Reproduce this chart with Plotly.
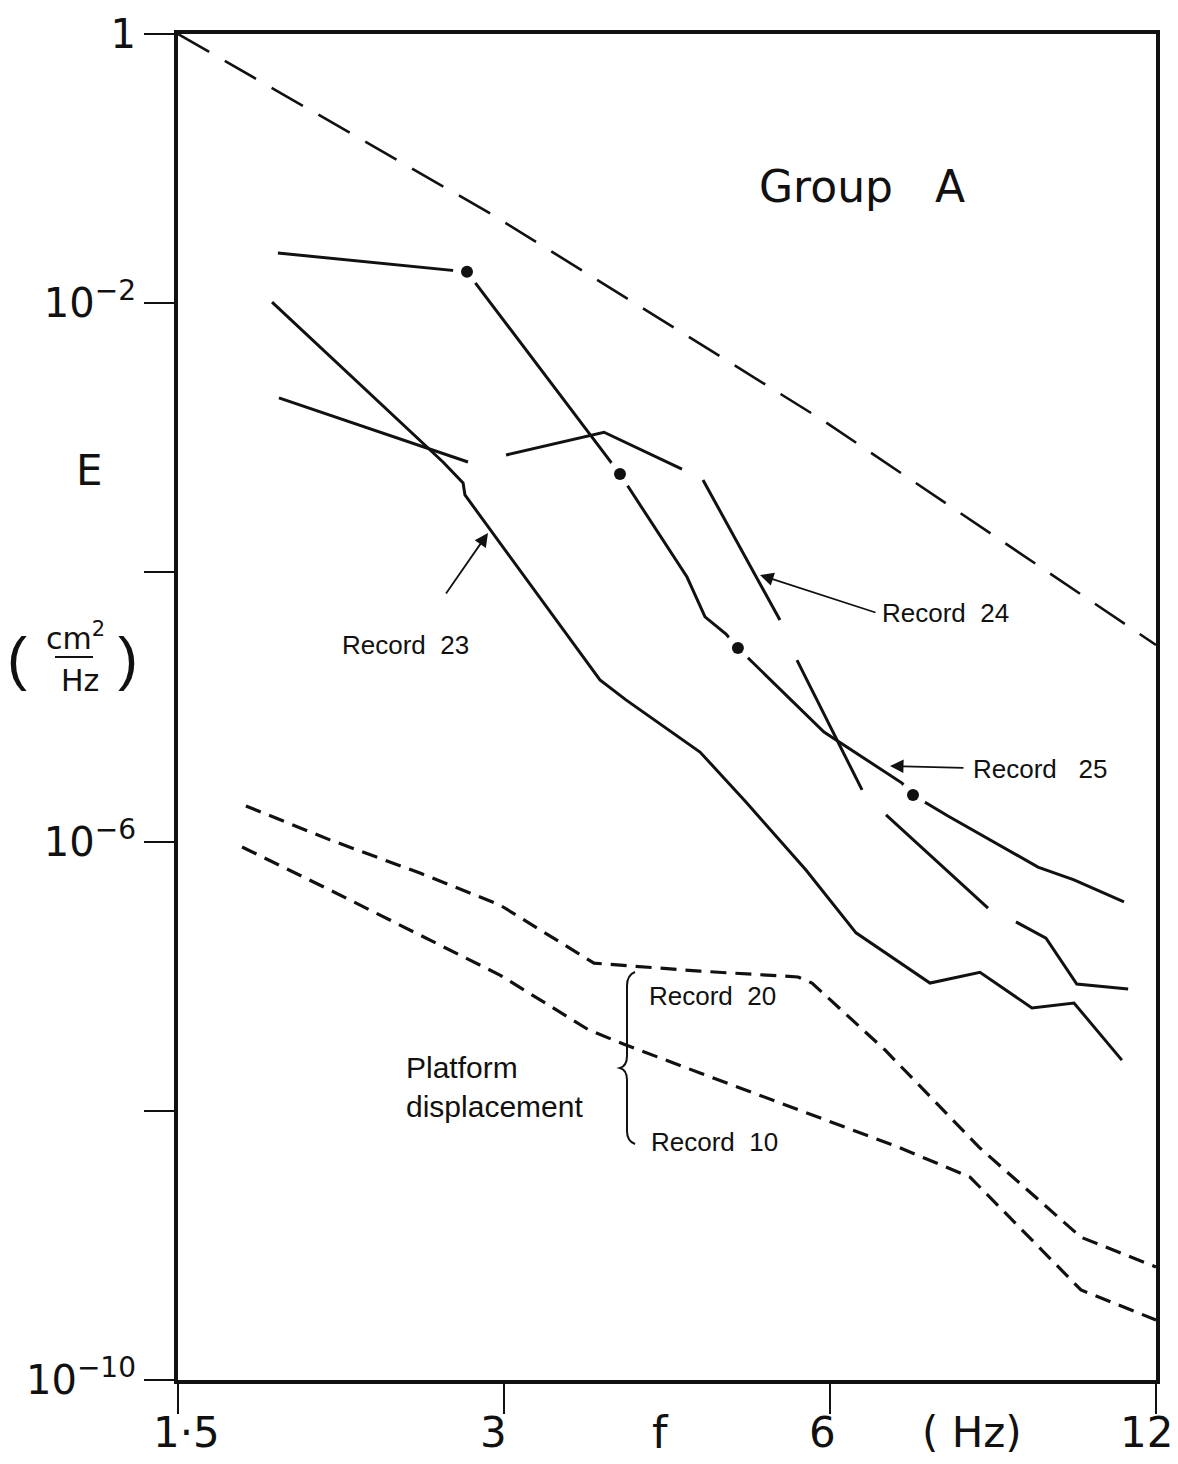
import math
import plotly.graph_objects as go

# ---------------- data (frequency f in Hz, spectral density E in cm^2/Hz) ----------------
upper_f = [1.5, 2.93, 5.90, 8.61, 12.0]
upper_E = [1.0, 4.52e-2, 1.36e-3, 1.74e-4, 2.89e-5]

rec23_f = [1.832, 2.635, 2.750, 2.761, 3.679, 3.888, 4.551, 5.018, 5.701, 6.341, 7.421, 8.253, 9.218, 10.08, 11.16]
rec23_E = [1.02e-2, 6.61e-4, 4.61e-4, 3.76e-4, 1.59e-5, 1.13e-5, 4.63e-6, 1.97e-6, 6.15e-7, 2.10e-7, 8.89e-8, 1.07e-7, 5.81e-8, 6.32e-8, 2.38e-8]

rec24_f = [1.859, 2.779, None, 3.013, 3.711, 4.380, None, 4.580, 5.394, None, 5.593, 6.423, None,
           6.759, 8.396, None, 8.910, 9.497, 10.14, 11.31]
rec24_E = [1.98e-3, 6.61e-4, None, 7.45e-4, 1.10e-3, 5.86e-4, None, 4.86e-4, 4.43e-5, None, 2.23e-5, 2.42e-6, None,
           1.58e-6, 3.21e-7, None, 2.53e-7, 1.92e-7, 8.75e-8, 8.03e-8]

rec25_f = [1.855, 2.646, 2.773, 3.839, 4.427, 4.600, 4.810, 4.933, 5.924, 6.993, 7.158, 7.711, 8.910, 9.337, 10.08, 11.21]
rec25_E = [2.36e-2, 1.77e-2, 1.71e-2, 5.38e-4, 9.24e-5, 4.67e-5, 3.48e-5, 2.74e-5, 6.52e-6, 2.72e-6, 2.22e-6, 1.55e-6,
           7.95e-7, 6.47e-7, 5.19e-7, 3.56e-7]
rec25_dot_f = [2.773, 3.839, 4.933, 7.158]
rec25_dot_E = [1.71e-2, 5.38e-4, 2.74e-5, 2.22e-6]

rec20_f = [1.733, 2.072, 2.509, 2.974, 3.633, 4.551, 5.605, 5.775, 6.744, 8.253, 10.23, 12.0]
rec20_E = [1.84e-6, 1.03e-6, 5.84e-7, 3.38e-7, 1.25e-7, 1.09e-7, 9.87e-8, 8.89e-8, 2.83e-8, 5.29e-9, 1.15e-9, 6.92e-10]

rec10_f = [1.719, 2.072, 2.509, 2.974, 3.594, 3.888, 4.551, 5.629, 6.933, 8.080, 10.23, 12.0]
rec10_E = [9.12e-7, 4.37e-7, 2.02e-7, 1.02e-7, 3.98e-8, 3.08e-8, 1.91e-8, 1.01e-8, 5.38e-9, 3.22e-9, 4.67e-10, 2.79e-10]

x_tickvals = [1.5, 3, 6, 12]
x_ticktext = ["1·5", "3", "6", "12"]
y_tickvals = [1, 1e-2, 1e-4, 1e-6, 1e-8, 1e-10]
y_ticktext = ["1", "10<sup>−2</sup>", "", "10<sup>−6</sup>", "", "10<sup>−10</sup>"]

# ---------------- layout geometry ----------------
W, H = 1178, 1464
L, R, T, B = 178, 22, 34, 84
PW = W - L - R
PH = H - T - B


def px(x):
    return (x - L) / PW


def py(y):
    return (H - B - y) / PH


AXFONT = "DejaVu Sans"
TXFONT = "Liberation Sans"
BLACK = "#111111"

fig = go.Figure()

fig.add_trace(go.Scatter(x=upper_f, y=upper_E, mode="lines", cliponaxis=True,
                         line=dict(color=BLACK, width=2.6, dash="36px,18px")))
fig.add_trace(go.Scatter(x=rec23_f, y=rec23_E, mode="lines", line=dict(color=BLACK, width=3)))
fig.add_trace(go.Scatter(x=rec24_f, y=rec24_E, mode="lines", connectgaps=False,
                         line=dict(color=BLACK, width=3)))
fig.add_trace(go.Scatter(x=rec25_f, y=rec25_E, mode="lines", line=dict(color=BLACK, width=3)))
fig.add_trace(go.Scatter(x=rec20_f, y=rec20_E, mode="lines",
                         line=dict(color=BLACK, width=3.2, dash="16px,9px")))
fig.add_trace(go.Scatter(x=rec10_f, y=rec10_E, mode="lines",
                         line=dict(color=BLACK, width=3.2, dash="16px,9px")))
# white halo then black dot for the Record 25 data points
fig.add_trace(go.Scatter(x=rec25_dot_f, y=rec25_dot_E, mode="markers",
                         marker=dict(color="white", size=28, line=dict(width=0))))
fig.add_trace(go.Scatter(x=rec25_dot_f, y=rec25_dot_E, mode="markers",
                         marker=dict(color=BLACK, size=12, line=dict(width=0))))

ann = []


def text(x, y, s, size, font=TXFONT, xanchor="center", align="center"):
    ann.append(dict(x=px(x), y=py(y), xref="paper", yref="paper", text=s, showarrow=False,
                    xanchor=xanchor, yanchor="middle", align=align,
                    font=dict(family=font, size=size, color=BLACK)))


def arrow(hx, hy, tx, ty):
    ann.append(dict(x=px(hx), y=py(hy), xref="paper", yref="paper", text="", showarrow=True,
                    ax=tx - hx, ay=ty - hy, arrowhead=2, arrowsize=1.5, arrowwidth=1.8,
                    arrowcolor=BLACK))


# x tick labels placed on the data axis, nudged to where the original printed them
label_shift = [8, -11, -8, -10]
for v, s, sh in zip(x_tickvals, x_ticktext, label_shift):
    ann.append(dict(x=math.log10(v), y=py(1432), xref="x", yref="paper", text=s, showarrow=False,
                    xanchor="center", yanchor="middle", xshift=sh,
                    font=dict(family=AXFONT, size=42, color=BLACK)))

text(862, 186, "Group\u00a0\u00a0 A", 44, font=AXFONT)
text(405, 645, "Record\u00a0 23", 26)
text(945, 613, "Record\u00a0 24", 26)
text(1040, 769, "Record\u00a0\u00a0 25", 26)
text(712, 996, "Record\u00a0 20", 26)
text(714, 1142, "Record\u00a0 10", 26)
text(404, 1087, "Platform<br>displacement", 30, xanchor="left", align="left")
text(660, 1432, "f", 44, font=AXFONT)
text(972, 1432, "(\u00a0Hz)", 42, font=AXFONT)
text(89, 471, "E", 42, font=AXFONT)
text(75, 636, "cm<sup>2</sup>", 30, font=AXFONT)
text(80, 680, "Hz", 30, font=AXFONT)
text(17, 658, "(", 60, font=TXFONT)
text(128, 658, ")", 60, font=TXFONT)

arrow(488, 533, 445, 595)
arrow(760, 575, 877, 613)
arrow(890, 766, 965, 768)

# brace for the platform displacement records
pts = [(635, 972), (627, 975), (627, 986), (627, 1056), (627, 1066), (620, 1068), (627, 1070),
       (627, 1080), (627, 1131), (627, 1141), (635, 1144)]
P = [(px(a), py(b)) for a, b in pts]
brace = ("M {:.4f},{:.4f} Q {:.4f},{:.4f} {:.4f},{:.4f} L {:.4f},{:.4f} Q {:.4f},{:.4f} {:.4f},{:.4f} "
         "Q {:.4f},{:.4f} {:.4f},{:.4f} L {:.4f},{:.4f} Q {:.4f},{:.4f} {:.4f},{:.4f}").format(
    *[c for p in P for c in p])

shapes = [
    dict(type="path", xref="paper", yref="paper", path=brace, line=dict(color=BLACK, width=2)),
    dict(type="line", xref="paper", yref="paper", x0=px(55), x1=px(93), y0=py(657), y1=py(657),
         line=dict(color=BLACK, width=2)),
]

fig.update_layout(
    width=W, height=H, margin=dict(l=L, r=R, t=T, b=B, autoexpand=False),
    paper_bgcolor="white", plot_bgcolor="white", showlegend=False,
    annotations=ann, shapes=shapes,
    xaxis=dict(type="log", range=[math.log10(1.5), math.log10(12.0) + 1e-9], showgrid=False, zeroline=False,
               showline=True, mirror=True, linecolor=BLACK, linewidth=4,
               ticks="outside", ticklen=30, tickwidth=2, tickcolor=BLACK,
               tickvals=x_tickvals, showticklabels=False, automargin=False),
    yaxis=dict(type="log", range=[-10, 0], showgrid=False, zeroline=False,
               showline=True, mirror=True, linecolor=BLACK, linewidth=4,
               ticks="outside", ticklen=30, tickwidth=2, tickcolor=BLACK,
               tickvals=y_tickvals, ticktext=y_ticktext,
               tickfont=dict(family=AXFONT, size=40, color=BLACK), automargin=False),
)

fig.write_html("out.html")
